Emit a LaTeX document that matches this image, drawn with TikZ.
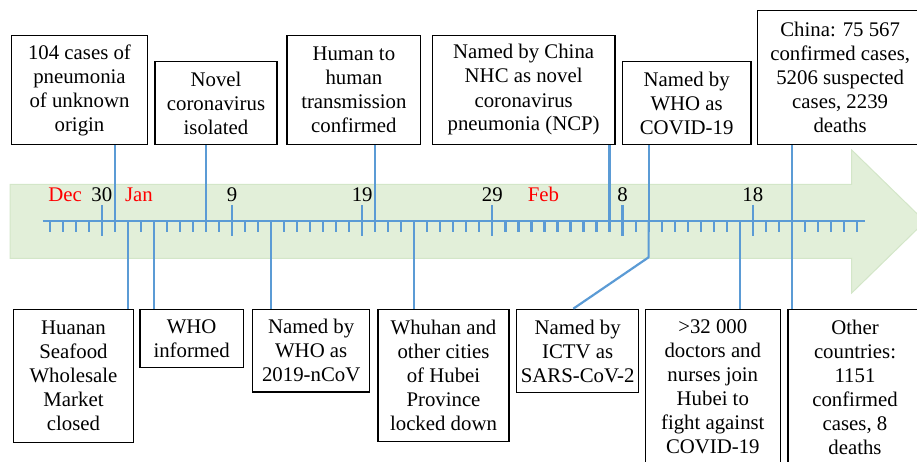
\documentclass[tikz,border=0pt]{standalone}
\usepackage{fontspec}
\setmainfont{Liberation Serif}
\definecolor{arrowfill}{HTML}{E2EFD9}
\definecolor{arrowline}{HTML}{D3E6C8}
\definecolor{conncol}{HTML}{5B9BD5}
\definecolor{monthred}{HTML}{FF0000}
\newcommand{\boxfont}{\fontsize{20.8}{24}\selectfont}
\tikzset{
  evbox/.style={draw=black, line width=1.2pt, fill=white, align=center, inner sep=0pt, font=\boxfont},
  conn/.style={draw=conncol, line width=2.2pt},
  smalltick/.style={draw=conncol, line width=2.2pt},
  datelbl/.style={anchor=base, inner sep=0pt, font=\boxfont},
  monthlbl/.style={anchor=base, inner sep=0pt, font=\boxfont, text=monthred},
}
\begin{document}
\begin{tikzpicture}[x=1pt, y=-1pt]
\useasboundingbox (0,0) rectangle (917,462);
\clip (0,0) rectangle (917,462);
% green arrow
\draw[fill=arrowfill, draw=arrowline, line width=1pt]
  (10,184.5) -- (851.7,184.5) -- (851.7,150) -- (925,221.5) -- (851.7,293) -- (851.7,258.3) -- (10,258.3) -- cycle;
% axis
\coordinate (axL) at (42.7,220.7);
\coordinate (axR) at (865,220.7);
\draw[conn] (axL) -- (axR);
\foreach \i in {0,...,62} {
  \coordinate (d\i) at ({49.7+13.02*\i},220.7);
  \draw[smalltick] (d\i) -- ++(0,11);
}
\foreach \i in {4,14,24,34,44,54} {
  \draw[smalltick] ([yshift=15.7pt]d\i) -- ([yshift=-15.3pt]d\i);
}
% date labels
\node[monthlbl] (mdec) at (65,201.5) {Dec};
\node[datelbl] (l30) at ({49.7+13.02*4},201.5) {30};
\node[monthlbl] (mjan) at (139,201.5) {Jan};
\node[datelbl] (l9) at ({49.7+13.02*14},201.5) {9};
\node[datelbl] (l19) at ({49.7+13.02*24},201.5) {19};
\node[datelbl] (l29) at ({49.7+13.02*34},201.5) {29};
\node[monthlbl] (mfeb) at (543.5,201.5) {Feb};
\node[datelbl] (l8) at ({49.7+13.02*44},201.5) {8};
\node[datelbl] (l18) at ({49.7+13.02*54},201.5) {18};
% top boxes
\node[evbox, minimum width=135.6pt, minimum height=108.6pt] (T1) at (79.5,90) {104 cases of\\pneumonia\\of unknown\\origin};
\node[evbox, minimum width=122pt, minimum height=82.6pt] (T2) at (216,103) {Novel\\coronavirus\\isolated};
\node[evbox, minimum width=133.7pt, minimum height=108.6pt] (T3) at (353.85,90) {Human to\\human\\transmission\\confirmed};
\node[evbox, minimum width=182.7pt, minimum height=108.6pt] (T4) at (523.65,90) {Named by China\\NHC as novel\\coronavirus\\pneumonia (NCP)};
\node[evbox, minimum width=128.7pt, minimum height=82.6pt] (T5) at (686.65,103) {Named by\\WHO as\\COVID-19};
\node[evbox, minimum width=165.7pt, minimum height=133.6pt] (T6) at (840.15,77.5) {China: 75 567\\confirmed cases,\\5206 suspected\\cases, 2239\\deaths};
% bottom boxes
\node[evbox, minimum width=119.6pt, minimum height=133pt] (B1) at (73.5,375.8) {Huanan\\Seafood\\Wholesale\\Market\\closed};
\node[evbox, minimum width=103.3pt, minimum height=58.4pt] (B2) at (191.65,338.5) {WHO\\informed};
\node[evbox, minimum width=117pt, minimum height=82.7pt] (B3) at (311.2,350.65) {Named by\\WHO as\\2019-nCoV};
\node[evbox, minimum width=131pt, minimum height=132.4pt] (B4) at (443.5,375.5) {Whuhan and\\other cities\\of Hubei\\Province\\locked down};
\node[evbox, minimum width=122pt, minimum height=83.4pt] (B5) at (577.7,351) {Named by\\ICTV as\\SARS-CoV-2};
\node[evbox, minimum width=135pt, minimum height=155.5pt] (B6) at (712.8,387) {>32 000\\doctors and\\nurses join\\Hubei to\\fight against\\COVID-19};
\node[evbox, minimum width=134pt, minimum height=155.5pt] (B7) at (855,387) {Other\\countries:\\1151\\confirmed\\cases, 8\\deaths};
% connectors up
\draw[conn] (d5) -- (d5 |- T1.south);
\draw[conn] (d12) -- (d12 |- T2.south);
\draw[conn] (d25) -- (d25 |- T3.south);
\draw[conn] (d43) -- (d43 |- T4.south);
\draw[conn] (d46) -- (d46 |- T5.south);
\draw[conn] (d57) -- (d57 |- T6.south);
% connectors down
\draw[conn] (d6) -- (d6 |- B1.north);
\draw[conn] (d8) -- (d8 |- B2.north);
\draw[conn] (d17) -- (d17 |- B3.north);
\draw[conn] (d28) -- (d28 |- B4.north);
\coordinate (kink) at ([yshift=-36.6pt]d46);
\draw[conn, line join=round] (d46) -- (kink) -- ([xshift=-4.4pt]B5.north);
\draw[conn] (d53) -- (d53 |- B6.north);
\draw[conn] (d57) -- (d57 |- B7.north);
\end{tikzpicture}
\end{document}
